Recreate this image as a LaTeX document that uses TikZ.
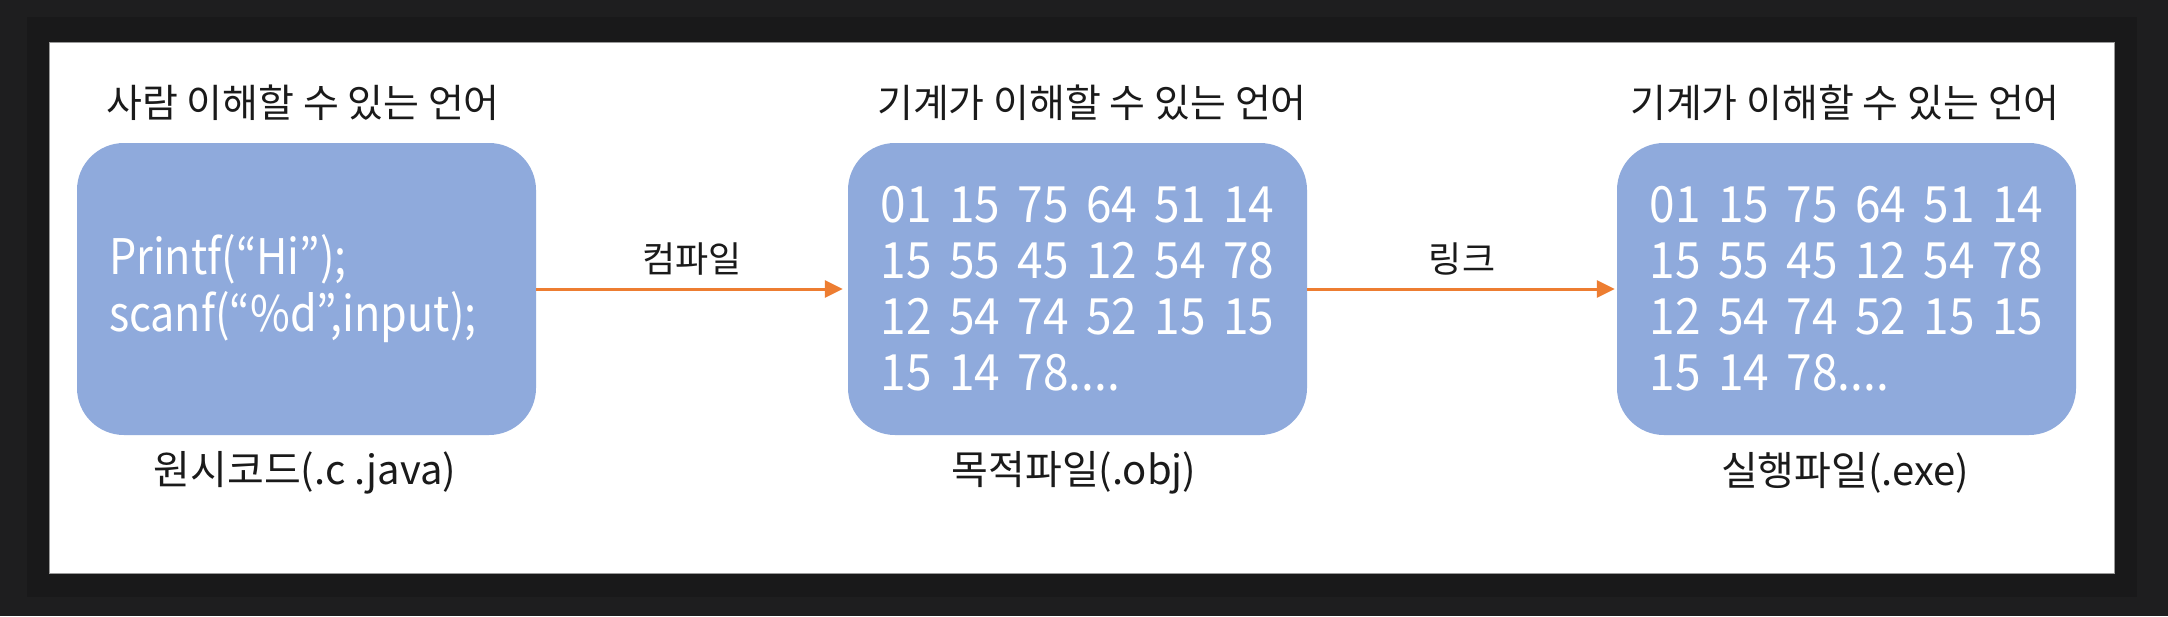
\documentclass[tikz,border=0pt]{standalone}
\usepackage{fontspec}
\setmainfont{Noto Sans CJK KR}
\newfontfamily\codefont[FakeStretch=0.88]{Noto Sans CJK KR}
\newfontfamily\digitfont[FakeStretch=0.92,WordSpace=1.7]{Noto Sans CJK KR}
\usetikzlibrary{arrows.meta,calc}
\definecolor{outerbg}{HTML}{1E1E1F}
\definecolor{innerbg}{HTML}{19191A}
\definecolor{boxblue}{HTML}{8FAADC}
\definecolor{arrorange}{HTML}{ED7D31}
\definecolor{txt}{HTML}{1A1A1A}
\definecolor{framegray}{HTML}{9A9A9A}
\begin{document}
\begin{tikzpicture}[x=1pt,y=-1pt,
  blockbox/.style={fill=boxblue, draw=none, rounded corners=47pt,
    minimum width=459pt, minimum height=292pt,
    inner xsep=32pt, inner ysep=0pt, align=left, text=white},
  codebox/.style={blockbox, text width=395pt, font=\codefont\fontsize{49}{57}\selectfont},
  numbox/.style={blockbox, font=\digitfont\fontsize{50}{56}\selectfont},
  titletext/.style={inner sep=0pt, text=txt, font=\fontsize{39}{46}\selectfont},
  nametext/.style={inner sep=0pt, text=txt, font=\fontsize{40}{48}\selectfont},
  steplabel/.style={inner sep=0pt, text=txt, font=\fontsize{36}{44}\selectfont},
  flow/.style={draw=arrorange, line width=3pt, -{Triangle[length=18pt,width=17pt]}}]
  \useasboundingbox (0,0) rectangle (2168,616);
  \fill[outerbg] (0,0) rectangle (2168,616);
  \fill[innerbg] (27,17) rectangle (2137,597);
  \draw[framegray, line width=1pt, fill=white] (49,42) rectangle (2114,573);

  \node[codebox] (b1) at (306.5,289) {Printf(“Hi”);\\scanf(“\%d”,input);};
  \node[numbox] (b2) at (1077.5,289) {01 15 75 64 51 14\\15 55 45 12 54 78\\12 54 74 52 15 15\\15 14 78....};
  \node[numbox] (b3) at (1846.5,289) {01 15 75 64 51 14\\15 55 45 12 54 78\\12 54 74 52 15 15\\15 14 78....};

  \node[titletext] (t1) at ($(b1.north)+(-3.5,-40)$) {사람 이해할 수 있는 언어};
  \node[titletext] (t2) at ($(b2.north)+(14.5,-40)$) {기계가 이해할 수 있는 언어};
  \node[titletext] (t3) at ($(b3.north)+(-1.5,-40)$) {기계가 이해할 수 있는 언어};

  \node[nametext] (n1) at ($(b1.south)+(-1.5,38)$) {원시코드(.c .java)};
  \node[nametext] (n2) at ($(b2.south)+(-3.5,38)$) {목적파일(.obj)};
  \node[nametext] (n3) at ($(b3.south)+(-1.5,38)$) {실행파일(.exe)};

  \draw[flow, shorten >=5pt] (b1) -- (b2) node[midway, above=12pt, steplabel] (l1) {컴파일};
  \draw[flow, shorten >=2pt] (b2) -- (b3) node[midway, above=12pt, steplabel] (l2) {링크};
\end{tikzpicture}
\end{document}
